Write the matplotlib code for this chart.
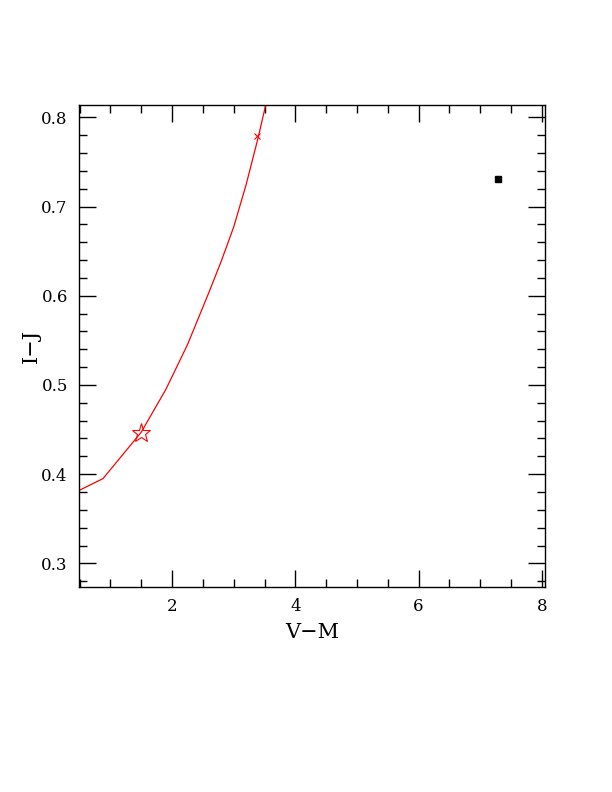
import matplotlib
matplotlib.use('Agg')
import matplotlib.pyplot as plt
from matplotlib.ticker import MultipleLocator

# model track (V-M vs I-J)
track_vm = [0.5, 0.88, 1.5, 1.9, 2.25, 2.6, 2.8, 3.0, 3.2, 3.4, 3.6]
track_ij = [0.382, 0.395, 0.447, 0.495, 0.545, 0.604, 0.639, 0.677, 0.724, 0.778, 0.838]

# special points
star_vm, star_ij = [1.504], [0.4464]
cross_vm, cross_ij = [3.378], [0.779]
obs_vm, obs_ij = [7.28], [0.731]

plt.rcParams['font.family'] = ['DejaVu Serif']
plt.rcParams['mathtext.fontset'] = 'dejavuserif'

fig = plt.figure(figsize=(6.12, 7.92), dpi=100)
ax = fig.add_axes([0.129, 0.2592, 0.7615, 0.6082])

ax.plot(track_vm, track_ij, color='red', lw=0.9)
ax.plot(star_vm, star_ij, marker='*', ms=14, mfc='none', mec='red', mew=0.8, ls='none')
ax.plot(cross_vm, cross_ij, marker='x', ms=4, color='red', mew=0.8, ls='none')
ax.plot(obs_vm, obs_ij, marker='s', ms=5, color='black', ls='none')

ax.set_xlim(0.49, 8.05)
ax.set_ylim(0.2738, 0.8138)

ax.xaxis.set_major_locator(MultipleLocator(2))
ax.xaxis.set_minor_locator(MultipleLocator(0.5))
ax.yaxis.set_major_locator(MultipleLocator(0.1))
ax.yaxis.set_minor_locator(MultipleLocator(0.02))

ax.tick_params(which='both', direction='in', top=True, right=True, width=1, labelsize=12)
ax.tick_params(which='major', length=12, pad=8)
ax.tick_params(which='minor', length=6)
for s in ax.spines.values():
    s.set_linewidth(1)

ax.set_xlabel('V\u2212M', fontsize=15, labelpad=6)
ax.set_ylabel('I\u2212J', fontsize=15, labelpad=0)

fig.savefig('out.png', dpi=100)
